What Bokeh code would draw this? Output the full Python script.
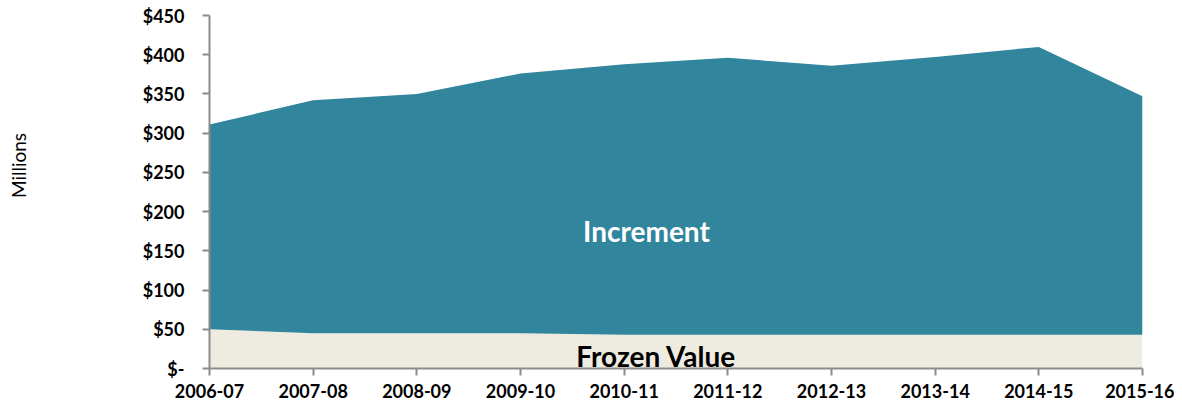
import math
from bokeh.plotting import figure
from bokeh.layouts import row
from bokeh.models import ColumnDataSource, Range1d, FixedTicker, Label
from bokeh.embed import file_html
from bokeh.resources import INLINE

years = ["2006-07", "2007-08", "2008-09", "2009-10", "2010-11",
         "2011-12", "2012-13", "2013-14", "2014-15", "2015-16"]
frozen = [50, 45, 45, 45, 43, 43, 43, 43, 43, 43]
increment = [261, 297, 305, 331, 345, 353, 343, 354, 367, 304]
y_ticks = [0, 50, 100, 150, 200, 250, 300, 350, 400, 450]

FONT = "Lato"
AXIS_GRAY = "#8c8c8c"
LEFT_W = 40
FIG_H = 400

source = ColumnDataSource(dict(x=list(range(len(years))), frozen=frozen, increment=increment))

# narrow strip holding the rotated unit label
side = figure(width=LEFT_W, height=FIG_H, min_border=0,
              x_range=Range1d(0, LEFT_W), y_range=Range1d(FIG_H, 0),
              output_backend="svg", toolbar_location=None)
side.axis.visible = False
side.grid.visible = False
side.outline_line_color = None
side.add_layout(Label(x=18, y=170, text="Millions", angle=math.pi / 2,
                      text_font=FONT, text_font_size="19px", text_color="black",
                      text_align="center", text_baseline="middle"))

p = figure(frame_width=933, frame_height=353,
           min_border_left=209 - LEFT_W, min_border_right=32, min_border_top=15, min_border_bottom=30,
           x_range=Range1d(0, len(years) - 1), y_range=Range1d(0, 450),
           output_backend="svg", toolbar_location=None)
p.outline_line_color = None
p.xgrid.visible = False
p.ygrid.visible = False
p.background_fill_color = "white"

p.varea_stack(stackers=["frozen", "increment"], x="x", color=["#EEECE1", "#31859C"], source=source)

# axes
p.xaxis.ticker = FixedTicker(ticks=list(range(len(years))))
p.xaxis.major_label_overrides = {i: y for i, y in enumerate(years)}
p.yaxis.ticker = FixedTicker(ticks=y_ticks)
p.yaxis.major_label_overrides = {t: ("$-" if t == 0 else f"${t}") for t in y_ticks}
for ax in (p.xaxis, p.yaxis):
    ax.axis_line_color = AXIS_GRAY
    ax.axis_line_width = 2
    ax.major_tick_line_color = AXIS_GRAY
    ax.major_tick_line_width = 2
    ax.major_tick_in = 0
    ax.major_tick_out = 7
    ax.minor_tick_line_color = None
    ax.major_label_text_font = FONT
    ax.major_label_text_font_style = "bold"
    ax.major_label_text_font_size = "18px"
    ax.major_label_text_color = "black"
p.yaxis.major_label_standoff = 18
p.xaxis.major_label_standoff = 8

p.add_layout(Label(x=4.215, y=175, text="Increment", text_font=FONT, text_font_style="bold",
                   text_font_size="28px", text_color="white",
                   text_align="center", text_baseline="middle"))
p.add_layout(Label(x=4.31, y=16, text="Frozen Value", text_font=FONT, text_font_style="bold",
                   text_font_size="28px", text_color="black",
                   text_align="center", text_baseline="middle"))

layout = row(side, p, spacing=0)
open("out.html", "w").write(file_html(layout, INLINE))
